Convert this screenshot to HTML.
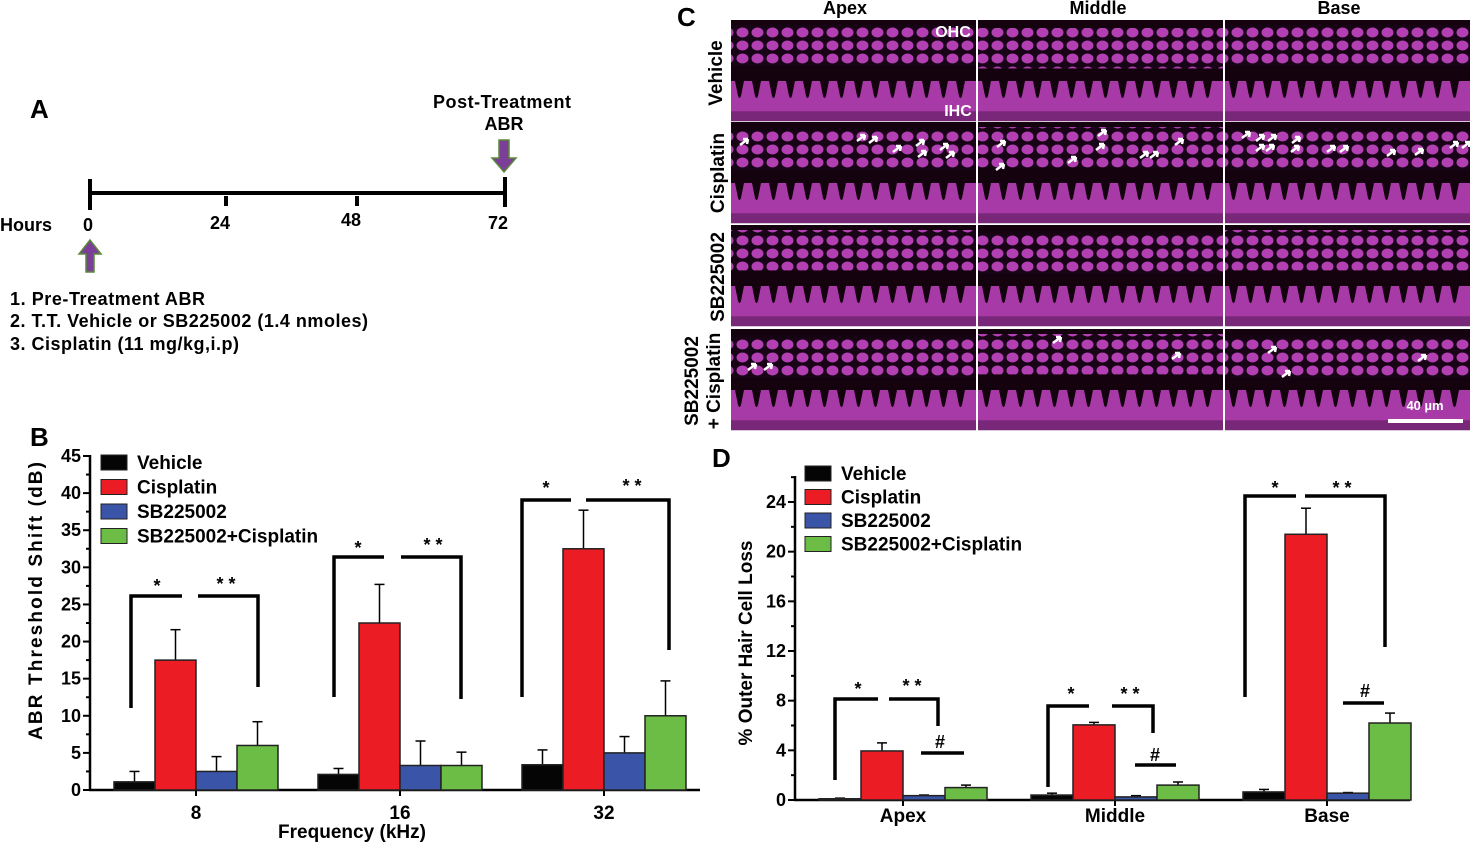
<!DOCTYPE html>
<html><head><meta charset="utf-8"><style>
html,body{margin:0;padding:0;background:#fff}
svg text{font-family:"Liberation Sans",Arial,sans-serif;font-weight:bold;fill:#000}
</style></head><body>
<svg id="fig" width="1476" height="843" viewBox="0 0 1476 843" xmlns="http://www.w3.org/2000/svg">
<defs>
<pattern id="ohc" width="15" height="13" patternUnits="userSpaceOnUse">
<rect width="15" height="13" fill="#1a0418"/>
<ellipse cx="7.5" cy="6.5" rx="6" ry="5" fill="#c447c4"/>
</pattern>
</defs>

<!-- Panel A -->
<g>
<text x="30" y="118" font-size="26">A</text>
<text x="502" y="108" font-size="18" text-anchor="middle" textLength="138">Post-Treatment</text>
<text x="504" y="130" font-size="18" text-anchor="middle">ABR</text>
<path d="M499 140 h10 v18 h7 l-12 14 l-12 -14 h7 z" fill="#7b3f98" stroke="#5a8a3a" stroke-width="1.5"/>
<line x1="90" y1="193" x2="505" y2="193" stroke="#000" stroke-width="4"/>
<line x1="90" y1="179" x2="90" y2="210" stroke="#000" stroke-width="4"/>
<line x1="505" y1="177" x2="505" y2="207" stroke="#000" stroke-width="4"/>
<line x1="226" y1="196" x2="226" y2="206" stroke="#000" stroke-width="4"/>
<line x1="357" y1="196" x2="357" y2="206" stroke="#000" stroke-width="4"/>
<text x="0" y="231" font-size="18">Hours</text>
<text x="88" y="231" font-size="18" text-anchor="middle">0</text>
<text x="220" y="229" font-size="18" text-anchor="middle">24</text>
<text x="351" y="226" font-size="18" text-anchor="middle">48</text>
<text x="498" y="229" font-size="18" text-anchor="middle">72</text>
<path d="M86 272 v-18 h-7 l11 -14 l11 14 h-7 v18 z" fill="#7b3f98" stroke="#5a8a3a" stroke-width="1.5"/>
<text x="10" y="305" font-size="18" textLength="195">1. Pre-Treatment ABR</text>
<text x="10" y="327" font-size="18" textLength="358">2. T.T. Vehicle or SB225002 (1.4 nmoles)</text>
<text x="10" y="350" font-size="18" textLength="229">3. Cisplatin (11 mg/kg,i.p)</text>
</g>

<!-- Panel C -->
<g id="panelC">
<text x="677" y="26" font-size="26">C</text>
<text x="845" y="14" font-size="18" text-anchor="middle">Apex</text>
<text x="1098" y="14" font-size="18" text-anchor="middle">Middle</text>
<text x="1339" y="14" font-size="18" text-anchor="middle">Base</text>
<text transform="translate(722,73) rotate(-90)" font-size="19" text-anchor="middle">Vehicle</text>
<text transform="translate(724,173) rotate(-90)" font-size="19" text-anchor="middle">Cisplatin</text>
<text transform="translate(724,277) rotate(-90)" font-size="19" text-anchor="middle">SB225002</text>
<text transform="translate(698,381) rotate(-90)" font-size="19" text-anchor="middle">SB225002</text>
<text transform="translate(720,381) rotate(-90)" font-size="19" text-anchor="middle">+ Cisplatin</text>
</g>

<!-- Panel B -->
<g id="panelB">
<text x="30" y="446" font-size="26">B</text>
<text transform="translate(42,601) rotate(-90)" font-size="19" text-anchor="middle" textLength="278">ABR Threshold Shift (dB)</text>
<text x="352" y="838" font-size="19" text-anchor="middle" textLength="148">Frequency (kHz)</text>
</g>

<!-- Panel D -->
<g id="panelD">
<text x="712" y="467" font-size="26">D</text>
<text transform="translate(752,643) rotate(-90)" font-size="19" text-anchor="middle" textLength="205">% Outer Hair Cell Loss</text>
</g>
</svg>
<script>
const NS="http://www.w3.org/2000/svg";
function mk(parent,tag,attrs,text){const e=document.createElementNS(NS,tag);for(const k in attrs)e.setAttribute(k,attrs[k]);if(text!==undefined)e.textContent=text;parent.appendChild(e);return e;}
const seriesNames=["Vehicle","Cisplatin","SB225002","SB225002+Cisplatin"];
const seriesColors=["#050505","#ec1c24","#3a55a8","#6cbd45"];

// ---- Panel B data ----
const bCategories=["8","16","32"];
const bVehicle=[1.1,2.1,3.4];
const bVehicleErr=[2.5,2.9,5.4];
const bCisplatin=[17.5,22.5,32.5];
const bCisplatinErr=[21.6,27.7,37.7];
const bSB=[2.5,3.3,5.0];
const bSBErr=[4.5,6.6,7.2];
const bCombo=[6.0,3.3,10.0];
const bComboErr=[9.2,5.1,14.7];
const bTicks=[0,5,10,15,20,25,30,35,40,45];

// ---- Panel D data ----
const dCategories=["Apex","Middle","Base"];
const dVehicle=[0.1,0.4,0.65];
const dVehicleErr=[0.15,0.55,0.85];
const dCisplatin=[3.95,6.05,21.4];
const dCisplatinErr=[4.6,6.25,23.5];
const dSB=[0.35,0.25,0.55];
const dSBErr=[0.4,0.35,0.6];
const dCombo=[1.0,1.2,6.2];
const dComboErr=[1.2,1.45,7.0];
const dTicks=[0,4,8,12,16,20,24];

function drawChart(g,cfg){
  const y=v=>cfg.y0-(v/cfg.ymax)*(cfg.y0-cfg.ytop);
  const ya=mk(g,"line",{x1:cfg.x0,y1:cfg.axTop,x2:cfg.x0,y2:cfg.y0+1,stroke:"#000","stroke-width":2.5});
  
  
  const xa=mk(g,"line",{x1:cfg.x0-1,y1:cfg.y0,x2:cfg.x1,y2:cfg.y0,stroke:"#000","stroke-width":2.5});
  
  
  for(let v=0;v<=cfg.axMax+1e-9;v+=cfg.minor){
    const isMaj=cfg.ticks.some(t=>Math.abs(t-v)<1e-6);
    mk(g,"line",{x1:cfg.x0-(isMaj?7:4),y1:y(v),x2:cfg.x0,y2:y(v),stroke:"#000","stroke-width":2});
  }
  cfg.ticks.forEach(t=>{
    const tl=mk(g,"text",{x:cfg.x0-9,y:y(t)+6,"font-size":18,"text-anchor":"end"},String(t));
    
    
  });
  const series=[cfg.s0,cfg.s1,cfg.s2,cfg.s3];
  const errs=[cfg.e0,cfg.e1,cfg.e2,cfg.e3];
  cfg.cats.forEach((c,i)=>{
    const gx=cfg.gx0+i*cfg.gstep;
    mk(g,"line",{x1:gx,y1:cfg.y0,x2:gx,y2:cfg.y0+6,stroke:"#000","stroke-width":2});
    const cl=mk(g,"text",{x:gx,y:cfg.y0+cfg.labOff,"font-size":19,"text-anchor":"middle"},c);
    
    
    for(let s=0;s<4;s++){
      const bx=gx-2*cfg.bw+s*cfg.bw;
      const v=series[s][i], e=errs[s][i];
      const cx=bx+cfg.bw/2;
      mk(g,"line",{x1:cx,y1:y(v),x2:cx,y2:y(e),stroke:"#000","stroke-width":1.5});
      mk(g,"line",{x1:cx-5,y1:y(e),x2:cx+5,y2:y(e),stroke:"#000","stroke-width":1.5});
      const r=mk(g,"rect",{x:bx,y:y(v),width:cfg.bw,height:Math.max(cfg.y0-y(v),0.5),fill:seriesColors[s],stroke:"#222","stroke-width":1.5});
      
      
    }
  });
  seriesNames.forEach((n,s)=>{
    const ly=cfg.legY+s*cfg.legStep;
    const sw=mk(g,"rect",{x:cfg.legX,y:ly,width:26,height:15,fill:seriesColors[s],stroke:"#222","stroke-width":1});
    
    
    const lt=mk(g,"text",{x:cfg.legX+36,y:ly+14,"font-size":19},n);
    
    
  });
}

drawChart(document.getElementById("panelB"),{x0:90,x1:700,y0:790,ytop:456,ymax:45,axTop:455,axMax:45,minor:2.5,ticks:bTicks,
  cats:bCategories,gx0:196,gstep:204,bw:41,labOff:29,s0:bVehicle,s1:bCisplatin,s2:bSB,s3:bCombo,e0:bVehicleErr,e1:bCisplatinErr,e2:bSBErr,e3:bComboErr,
  legX:101,legY:455,legStep:24.5});
drawChart(document.getElementById("panelD"),{x0:795,x1:1410,y0:800,ytop:502,ymax:24,axTop:476,axMax:26,minor:2,ticks:dTicks,
  cats:dCategories,gx0:903,gstep:212,bw:42,labOff:22,s0:dVehicle,s1:dCisplatin,s2:dSB,s3:dCombo,e0:dVehicleErr,e1:dCisplatinErr,e2:dSBErr,e3:dComboErr,
  legX:805,legY:466,legStep:23.5});

function bracket(g,pts,label,lx,ly){
  const p=mk(g,"polyline",{points:pts,fill:"none",stroke:"#000","stroke-width":3.5});
  
  
  const t=mk(g,"text",{x:lx,y:ly,"font-size":18,"text-anchor":"middle"},label);
  
  
}
const gB=document.getElementById("panelB");
bracket(gB,"131,708 131,596 182,596","*",157,592);
bracket(gB,"198,596 258,596 258,687","* *",226,590);
bracket(gB,"334,697 334,557 384,557","*",358,554);
bracket(gB,"401,557 461,557 461,699","* *",433,551);
bracket(gB,"522,697 522,500 571,500","*",546,494);
bracket(gB,"586,500 669,500 669,650","* *",632,492);
const gD=document.getElementById("panelD");
bracket(gD,"835,780 835,699 878,699","*",858,695);
bracket(gD,"889,699 938,699 938,726","* *",912,692);
bracket(gD,"921,753 964,753","#",940,748);
bracket(gD,"1048,787 1048,706 1089,706","*",1071,700);
bracket(gD,"1112,706 1153,706 1153,733","* *",1130,700);
bracket(gD,"1135,765 1176,765","#",1155,761);
bracket(gD,"1245,697 1245,496 1296,496","*",1275,494);
bracket(gD,"1305,496 1385,496 1385,647","* *",1342,494);
bracket(gD,"1343,703 1384,703","#",1365,697);

// Panel C tiles
const gC=document.getElementById("panelC");
const colX=[731,978,1225], rowY=[20,122,225,329], tw=245, th=101;
const arrows=[[],[[740,145],[857,141],[869,143],[893,152],[916,146],[918,157],[940,150],[946,158],[997,147],[996,170],[1068,163],[1098,136],[1096,150],[1140,158],[1150,158],[1175,145],[1242,138],[1256,141],[1268,141],[1256,151],[1266,151],[1292,143],[1291,152],[1327,152],[1340,152],[1387,156],[1415,155],[1450,148],[1462,148]],[],[[748,370],[764,370],[1053,343],[1172,359],[1268,353],[1282,377],[1418,361]]];
rowY.forEach((ry,r)=>{
  colX.forEach((cx,c)=>{
    const t=mk(gC,"g",{});
    
    
    mk(t,"rect",{x:cx,y:ry,width:tw,height:th,fill:"#14030f"});
    const ohcTop=ry+5+((r+c)%2)*3, ohcH=th*0.40;
    mk(t,"rect",{x:cx,y:ohcTop,width:tw,height:ohcH,fill:"url(#ohc)",opacity:0.9});
    const lowTop=ry+Math.round(th*0.6);
    mk(t,"rect",{x:cx,y:lowTop,width:tw,height:th-(lowTop-ry),fill:"#a83aa8"});
    mk(t,"rect",{x:cx,y:lowTop+th*0.3,width:tw,height:th*0.1,fill:"#5a1a58",opacity:0.6});
    for(let dx=4;dx<tw-6;dx+=17){
      mk(t,"path",{d:`M${cx+dx} ${lowTop} h9 l-3 15 q-1.5 4 -3 0 z`,fill:"#14030f"});
    }
  });
  arrows[r].forEach(a=>{
    const ar=mk(gC,"path",{d:`M${a[0]} ${a[1]} l8 -6 m0 0 l-5 0 m5 0 l-1 5`,stroke:"#fff","stroke-width":2.5,fill:"none"});
    
    
  });
});
[["OHC",953,37,"ohc-label"],["IHC",958,116,"ihc-label"],["40 µm",1425,410,"scale-label"]].forEach(l=>{
  const t=mk(gC,"text",{x:l[1],y:l[2],"font-size":l[0]==="40 µm"?13:16,"text-anchor":"middle",style:"fill:#fff"},l[0]);
  
  
});
const sb=mk(gC,"line",{x1:1388,y1:421,x2:1463,y2:421,stroke:"#fff","stroke-width":4});


</script>
</body></html>
